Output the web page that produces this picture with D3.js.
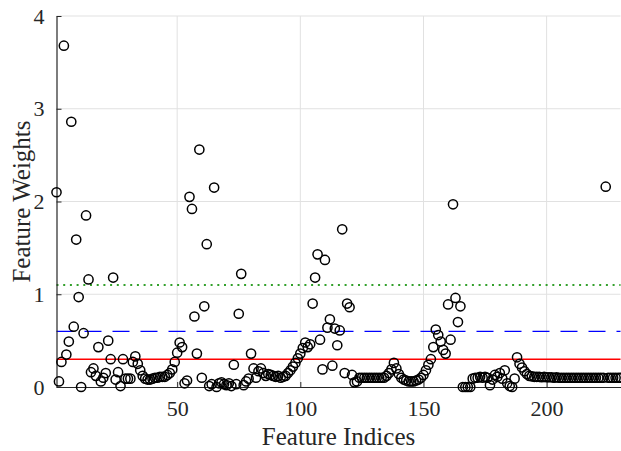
<!DOCTYPE html>
<html>
<head>
<meta charset="utf-8">
<script src="https://cdn.jsdelivr.net/npm/d3@7"></script>
<style>
  body { margin: 0; background: #fff; }
  svg text { font-family: "Liberation Serif", "Times New Roman", serif; fill: #262626; }
</style>
</head>
<body>
<svg id="chart" width="621" height="451"></svg>
<script>
// feature weights, feature index = position + 1
const weights = [
  2.10, 0.06, 0.27, 3.68, 0.35, 0.49, 2.86, 0.65, 1.59, 0.97,
  0.00, 0.58, 1.85, 1.16, 0.16, 0.20, 0.12, 0.43, 0.06, 0.10,
  0.15, 0.50, 0.30, 1.18, 0.08, 0.16, 0.01, 0.30, 0.09, 0.09,
  0.09, 0.27, 0.33, 0.25, 0.18, 0.12, 0.09, 0.08, 0.08, 0.09,
  0.10, 0.10, 0.11, 0.11, 0.11, 0.13, 0.15, 0.19, 0.27, 0.37,
  0.48, 0.43, 0.04, 0.07, 2.05, 1.92, 0.76, 0.36, 2.56, 0.10,
  0.87, 1.54, 0.01, 0.03, 2.15, 0.00, 0.04, 0.05, 0.03, 0.02,
  0.04, 0.01, 0.24, 0.03, 0.79, 1.22, 0.02, 0.06, 0.09, 0.36,
  0.20, 0.10, 0.17, 0.20, 0.15, 0.12, 0.14, 0.13, 0.12, 0.11,
  0.12, 0.10, 0.11, 0.12, 0.15, 0.18, 0.22, 0.26, 0.31, 0.36,
  0.42, 0.48, 0.43, 0.46, 0.90, 1.18, 1.43, 0.51, 0.19, 1.37,
  0.64, 0.73, 0.23, 0.63, 0.45, 0.61, 1.70, 0.15, 0.90, 0.86,
  0.13, 0.05, 0.06, 0.10, 0.10, 0.10, 0.10, 0.10, 0.10, 0.10,
  0.10, 0.10, 0.10, 0.10, 0.12, 0.15, 0.19, 0.26, 0.20, 0.14,
  0.10, 0.08, 0.07, 0.06, 0.06, 0.06, 0.07, 0.08, 0.10, 0.13,
  0.18, 0.24, 0.30, 0.43, 0.62, 0.56, 0.49, 0.40, 0.36, 0.89,
  0.51, 1.97, 0.96, 0.70, 0.87, 0.00, 0.00, 0.00, 0.00, 0.09,
  0.10, 0.10, 0.11, 0.10, 0.11, 0.10, 0.02, 0.08, 0.13, 0.11,
  0.15, 0.09, 0.18, 0.04, 0.01, 0.00, 0.09, 0.32, 0.25, 0.21,
  0.17, 0.14, 0.12, 0.115, 0.11, 0.11, 0.11, 0.105, 0.11, 0.105,
  0.105, 0.105, 0.10, 0.105, 0.10, 0.10, 0.10, 0.10, 0.10, 0.10,
  0.10, 0.10, 0.10, 0.10, 0.10, 0.10, 0.10, 0.10, 0.10, 0.10,
  0.10, 0.10, 0.10, 2.16, 0.10, 0.10, 0.10, 0.10, 0.10, 0.10
];

const xTicks = [50, 100, 150, 200];
const yTicks = [0, 1, 2, 3, 4];

// threshold lines
const thresholds = [
  { value: 0.30, color: "#ff0000", dash: null, width: 1.4 },
  { value: 0.60, color: "#0000ff", dash: "17,11", width: 1.4 },
  { value: 1.10, color: "#33a02c", dash: "2,4.7", width: 2 }
];

const serif = "'Liberation Serif', 'Times New Roman', serif";
const svg = d3.select("#chart");
const plotL = 56.5, plotR = 620.5, plotT = 16, plotB = 387;

const x = d3.scaleLinear().domain([1, 230]).range([plotL, plotR]);
const y = d3.scaleLinear().domain([0, 4]).range([plotB, plotT]);

// grid
svg.append("g")
  .selectAll("line")
  .data(xTicks)
  .enter()
  .append("line")
  .attr("x1", d => x(d)).attr("x2", d => x(d))
  .attr("y1", plotT).attr("y2", plotB)
  .style("stroke", "#e1e1e1").style("stroke-width", 1);

svg.append("g")
  .selectAll("line")
  .data(yTicks.filter(d => d > 0))
  .enter()
  .append("line")
  .attr("x1", plotL).attr("x2", plotR)
  .attr("y1", d => y(d)).attr("y2", d => y(d))
  .style("stroke", "#e1e1e1").style("stroke-width", 1);

// threshold lines
svg.append("g")
  .selectAll("line")
  .data(thresholds)
  .enter()
  .append("line")
  .attr("x1", x(1)).attr("x2", x(230))
  .attr("y1", d => y(d.value)).attr("y2", d => y(d.value))
  .style("stroke", d => d.color)
  .style("stroke-width", d => d.width)
  .style("stroke-dasharray", d => d.dash);

// axes
const xAxis = svg.append("g")
  .attr("transform", `translate(0,${plotB})`)
  .call(d3.axisBottom(x).tickValues(xTicks).tickFormat(d3.format("d"))
    .tickSizeInner(-5).tickSizeOuter(0).tickPadding(13));
const yAxis = svg.append("g")
  .attr("transform", `translate(${plotL},0)`)
  .call(d3.axisLeft(y).tickValues(yTicks).tickFormat(d3.format("d"))
    .tickSizeInner(-5).tickSizeOuter(0).tickPadding(12));

[xAxis, yAxis].forEach(g => {
  g.attr("font-family", serif).attr("font-size", 22);
  g.select(".domain").style("stroke", "#262626").style("stroke-width", 1.2);
  g.selectAll(".tick line").style("stroke", "#262626");
  g.selectAll(".tick text").style("fill", "#262626");
});

// points
svg.append("g")
  .selectAll("circle")
  .data(weights)
  .enter()
  .append("circle")
  .attr("cx", (d, i) => x(i + 1))
  .attr("cy", d => y(d))
  .attr("r", 4.6)
  .style("fill", "none")
  .style("stroke", "#000")
  .style("stroke-width", 1.5);

// axis labels
svg.append("text")
  .attr("x", (plotL + plotR) / 2)
  .attr("y", 445)
  .attr("text-anchor", "middle")
  .style("font-size", "25px")
  .text("Feature Indices");

svg.append("text")
  .attr("transform", "rotate(-90)")
  .attr("x", -(plotT + plotB) / 2)
  .attr("y", 30)
  .attr("text-anchor", "middle")
  .style("font-size", "25px")
  .text("Feature Weights");
</script>
</body>
</html>
